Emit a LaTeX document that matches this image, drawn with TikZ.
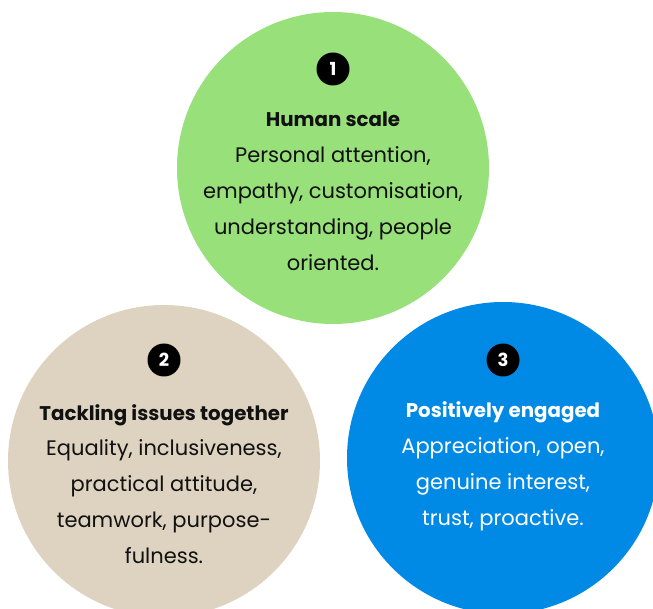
\documentclass[tikz,border=0pt]{standalone}
\usepackage{fontspec}
\setmainfont{Poppins}
\definecolor{cgreen}{RGB}{152,224,122}
\definecolor{cbeige}{RGB}{221,211,192}
\definecolor{cblue}{RGB}{0,137,229}
\definecolor{ctext}{RGB}{17,17,17}
\newcommand{\ttl}[1]{{\fontsize{19.8}{35.9}\selectfont\bfseries #1}}
\begin{document}
\begin{tikzpicture}[x=1pt,y=1pt,
  bigcircle/.style={circle,minimum size=312pt,inner sep=0pt},
  badge/.style={circle,fill=black,text=white,minimum size=33pt,inner sep=0pt,font=\fontsize{18}{20}\selectfont\bfseries},
  body/.style={align=center,font=\fontsize{21}{35.9}\selectfont}]
\useasboundingbox (0,0) rectangle (653,608);
\clip (0,0) rectangle (653,608);
\node[bigcircle,fill=cgreen] (c1) at (333,440) {};
\node[bigcircle,fill=cbeige] (c2) at (164,147) {};
\node[bigcircle,fill=cblue] (c3) at (503,150) {};
\node[badge] (b1) at (333,539) {1};
\node[badge] (b2) at (164,248) {2};
\node[badge] (b3) at (503,248) {3};
\node[body,text=ctext] (t1) at (333,417) {\ttl{Human scale}\\Personal attention,\\empathy, customisation,\\understanding, people\\oriented.};
\node[body,text=ctext] (t2) at (164,124) {\ttl{Tackling issues together}\\Equality, inclusiveness,\\practical attitude,\\teamwork, purpose-\\fulness.};
\node[body,text=white] (t3) at (503,142) {\ttl{Positively engaged}\\Appreciation, open,\\genuine interest,\\trust, proactive.};
\end{tikzpicture}
\end{document}
